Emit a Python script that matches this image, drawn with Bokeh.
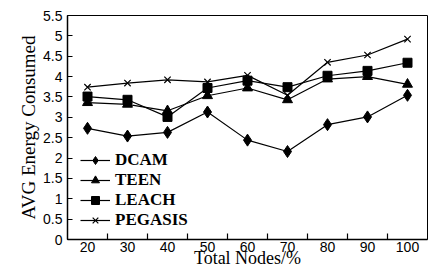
from bokeh.plotting import figure
from bokeh.models import FixedTicker, CustomJSTickFormatter, Legend, LegendItem, Range1d
from bokeh.embed import file_html
from bokeh.resources import INLINE

nodes = [20, 30, 40, 50, 60, 70, 80, 90, 100]
dcam = [2.73, 2.54, 2.63, 3.13, 2.44, 2.16, 2.82, 3.01, 3.54]
teen = [3.36, 3.32, 3.16, 3.53, 3.72, 3.43, 3.94, 4.00, 3.81]
leach = [3.51, 3.43, 3.01, 3.72, 3.90, 3.74, 4.02, 4.14, 4.34]
pegasis = [3.74, 3.84, 3.92, 3.87, 4.03, 3.54, 4.35, 4.53, 4.92]
y_ticks = [0, 0.5, 1, 1.5, 2, 2.5, 3, 3.5, 4, 4.5, 5, 5.5]
x_minor = [25, 35, 45, 55, 65, 75, 85, 95]

p = figure(width=430, height=272, output_backend="svg", toolbar_location=None,
           x_range=Range1d(15, 105), y_range=Range1d(0, 5.5),
           min_border_left=67, min_border_right=3, min_border_top=15, min_border_bottom=33)
p.background_fill_color = "white"
p.border_fill_color = "white"
p.outline_line_color = "black"
p.outline_line_width = 1
p.xgrid.visible = False
p.ygrid.visible = False

xa = p.xaxis[0]
xa.ticker = FixedTicker(ticks=nodes, minor_ticks=x_minor)
xa.major_tick_in = 0
xa.major_tick_out = 0
xa.minor_tick_in = 6
xa.minor_tick_out = 0
xa.axis_line_width = 1.5
xa.minor_tick_line_width = 1.2
xa.major_label_standoff = 2
xa.major_label_text_font = "Liberation Sans"
xa.major_label_text_font_size = "14px"
xa.major_label_text_color = "black"
xa.axis_label = "Total Nodes/%"
xa.axis_label_text_font = "Liberation Serif"
xa.axis_label_text_font_style = "normal"
xa.axis_label_text_font_size = "18px"
xa.axis_label_text_color = "black"
xa.axis_label_standoff = -7

ya = p.yaxis[0]
ya.ticker = FixedTicker(ticks=y_ticks)
ya.formatter = CustomJSTickFormatter(code="return String(tick)")
ya.major_tick_in = 5
ya.major_tick_out = 0
ya.minor_tick_in = 0
ya.minor_tick_out = 0
ya.axis_line_width = 1.5
ya.major_tick_line_width = 1.2
ya.major_label_standoff = 5
ya.major_label_text_font = "Liberation Sans"
ya.major_label_text_font_size = "14px"
ya.major_label_text_color = "black"
ya.axis_label = "AVG Energy Consumed"
ya.axis_label_text_font = "Liberation Serif"
ya.axis_label_text_font_style = "normal"
ya.axis_label_text_font_size = "19px"
ya.axis_label_text_color = "black"
ya.axis_label_standoff = 1

series = [("DCAM", dcam, "diamond", 12), ("TEEN", teen, "triangle", 10),
          ("LEACH", leach, "square", 9), ("PEGASIS", pegasis, "x", 9)]
items = []
for name, vals, marker, size in series:
    lr = p.line(nodes, vals, line_color="black", line_width=1.2)
    if marker == "x":
        sr = p.scatter(nodes, vals, marker=marker, size=size, line_color="black", line_width=1.2)
    else:
        sr = p.scatter(nodes, vals, marker=marker, size=size, fill_color="black", line_color="black")
    items.append(LegendItem(label=name, renderers=[lr, sr]))

legend = Legend(items=items, location=(13, 9), margin=0, padding=0, spacing=0,
                glyph_width=30, glyph_height=20, label_height=20, label_standoff=5,
                label_text_font="Liberation Serif", label_text_font_style="bold",
                label_text_font_size="17px", label_text_color="black",
                border_line_color=None, background_fill_alpha=0)
p.add_layout(legend, "center")

open("out.html", "w").write(file_html(p, INLINE))
